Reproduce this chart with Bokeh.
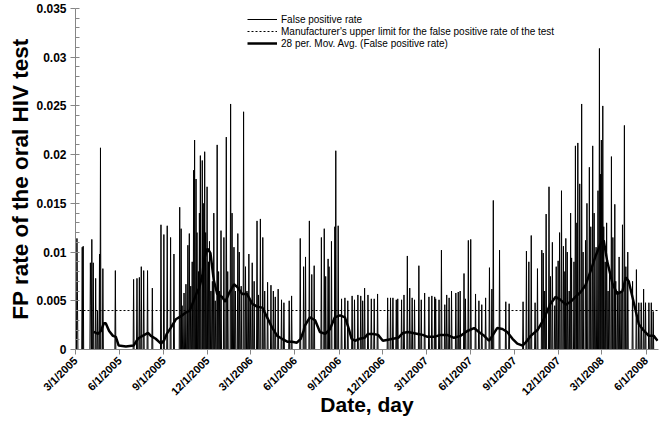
import math
import pandas as pd
from bokeh.plotting import figure
from bokeh.models import Range1d, FixedTicker, NumeralTickFormatter, Legend, LegendItem
from bokeh.embed import file_html
from bokeh.resources import INLINE

# ---------------- data ----------------
start_date = "2005-03-01"
last_date = "2008-06-25"
axis_end = "2008-06-27"

spike_dates = [
    "2005-03-04", "2005-03-05", "2005-03-15", "2005-03-17", "2005-04-01", "2005-04-02", "2005-04-04",
    "2005-04-07", "2005-04-12", "2005-04-16", "2005-04-20", "2005-04-22", "2005-04-27", "2005-05-23",
    "2005-06-30", "2005-07-07", "2005-07-12", "2005-07-16", "2005-07-21", "2005-07-29", "2005-08-08",
    "2005-08-26", "2005-09-01", "2005-09-08", "2005-09-15", "2005-09-22", "2005-10-04", "2005-10-07",
    "2005-10-09", "2005-10-13", "2005-10-17", "2005-10-21", "2005-10-24", "2005-10-27", "2005-10-30",
    "2005-11-02", "2005-11-04", "2005-11-07", "2005-11-09", "2005-11-12", "2005-11-14", "2005-11-16",
    "2005-11-20", "2005-11-22", "2005-11-25", "2005-11-27", "2005-11-30", "2005-12-03", "2005-12-05",
    "2005-12-08", "2005-12-11", "2005-12-14", "2005-12-17", "2005-12-21", "2005-12-24", "2005-12-26",
    "2005-12-29", "2006-01-04", "2006-01-09", "2006-01-12", "2006-01-18", "2006-01-21", "2006-01-25",
    "2006-01-28", "2006-02-02", "2006-02-05", "2006-02-09", "2006-02-14", "2006-02-18", "2006-02-21",
    "2006-02-25", "2006-02-28", "2006-03-04", "2006-03-08", "2006-03-14", "2006-03-17", "2006-03-21",
    "2006-03-26", "2006-03-30", "2006-04-05", "2006-04-12", "2006-04-17", "2006-04-21", "2006-04-27",
    "2006-05-04", "2006-05-09", "2006-05-20", "2006-05-25", "2006-06-12", "2006-06-19", "2006-06-23",
    "2006-07-01", "2006-07-06", "2006-07-11", "2006-07-26", "2006-08-01", "2006-08-04", "2006-08-09",
    "2006-08-11", "2006-08-16", "2006-08-23", "2006-08-25", "2006-08-30", "2006-09-06", "2006-09-13",
    "2006-09-19", "2006-09-28", "2006-10-03", "2006-10-10", "2006-10-16", "2006-10-20", "2006-10-24",
    "2006-10-31", "2006-11-07", "2006-11-13", "2006-11-20", "2006-12-11", "2006-12-17", "2006-12-22",
    "2006-12-29", "2007-01-01", "2007-01-09", "2007-01-14", "2007-01-21", "2007-01-26", "2007-01-31",
    "2007-02-05", "2007-02-14", "2007-02-19", "2007-02-26", "2007-03-07", "2007-03-13", "2007-03-19",
    "2007-03-21", "2007-03-28", "2007-04-02", "2007-04-09", "2007-04-13", "2007-04-18", "2007-04-23",
    "2007-05-02", "2007-05-07", "2007-05-11", "2007-05-19", "2007-05-22", "2007-05-28", "2007-06-02",
    "2007-06-12", "2007-06-19", "2007-06-25", "2007-07-03", "2007-07-11", "2007-07-16", "2007-07-19",
    "2007-08-01", "2007-08-14", "2007-08-21", "2007-09-19", "2007-09-26", "2007-10-01", "2007-10-06",
    "2007-10-14", "2007-10-19", "2007-10-28", "2007-10-31", "2007-11-03", "2007-11-06", "2007-11-12",
    "2007-11-15", "2007-11-19", "2007-11-24", "2007-11-27", "2007-12-01", "2007-12-04", "2007-12-08",
    "2007-12-12", "2007-12-15", "2007-12-17", "2007-12-20", "2007-12-24", "2007-12-27", "2007-12-29",
    "2008-01-03", "2008-01-06", "2008-01-09", "2008-01-11", "2008-01-15", "2008-01-19", "2008-01-22",
    "2008-01-27", "2008-01-30", "2008-02-04", "2008-02-07", "2008-02-11", "2008-02-14", "2008-02-18",
    "2008-02-22", "2008-02-25", "2008-02-27", "2008-02-29", "2008-03-03", "2008-03-05", "2008-03-08",
    "2008-03-11", "2008-03-14", "2008-03-17", "2008-03-21", "2008-03-24", "2008-03-28", "2008-03-30",
    "2008-04-03", "2008-04-06", "2008-04-10", "2008-04-13", "2008-04-17", "2008-04-20", "2008-04-24",
    "2008-05-04", "2008-05-12", "2008-05-17", "2008-05-22", "2008-05-27", "2008-05-31", "2008-06-07",
    "2008-06-12", "2008-06-16",
]
spike_values = [
    0.0114, 0.0057, 0.0105, 0.0106, 0.0089, 0.0045, 0.0113,
    0.0089, 0.0073, 0.0040, 0.0098, 0.0207, 0.0083, 0.0081,
    0.0072, 0.0073, 0.0074, 0.0085, 0.0081, 0.0081, 0.0063,
    0.0128, 0.0118, 0.0127, 0.0115, 0.0098, 0.0146, 0.0124,
    0.0045, 0.0058, 0.0067, 0.0107, 0.0119, 0.0065, 0.0090,
    0.0184, 0.0215, 0.0175, 0.0120, 0.0080, 0.0140, 0.0199,
    0.0194, 0.0150, 0.0203, 0.0120, 0.0167, 0.0090, 0.0111,
    0.0060, 0.0070, 0.0140, 0.0050, 0.0210, 0.0080, 0.0060,
    0.0122, 0.0115, 0.0218, 0.0080, 0.0252, 0.0140, 0.0105,
    0.0060, 0.0119, 0.0100, 0.0065, 0.0244, 0.0085, 0.0060,
    0.0098, 0.0050, 0.0089, 0.0070, 0.0132, 0.0056, 0.0134,
    0.0115, 0.0060, 0.0069, 0.0066, 0.0060, 0.0054, 0.0062,
    0.0051, 0.0048, 0.0050, 0.0055, 0.0114, 0.0085, 0.0095,
    0.0132, 0.0077, 0.0086, 0.0115, 0.0124, 0.0075, 0.0093,
    0.0085, 0.0111, 0.0126, 0.0204, 0.0127, 0.0052, 0.0053,
    0.0050, 0.0055, 0.0051, 0.0056, 0.0055, 0.0050, 0.0063,
    0.0056, 0.0052, 0.0052, 0.0057, 0.0053, 0.0053, 0.0053,
    0.0051, 0.0052, 0.0051, 0.0056, 0.0096, 0.0063, 0.0053,
    0.0051, 0.0086, 0.0051, 0.0058, 0.0054, 0.0055, 0.0054,
    0.0052, 0.0051, 0.0102, 0.0046, 0.0056, 0.0053, 0.0060,
    0.0058, 0.0059, 0.0060, 0.0078, 0.0052, 0.0112, 0.0113,
    0.0057, 0.0050, 0.0046, 0.0053, 0.0084, 0.0062, 0.0153,
    0.0102, 0.0049, 0.0047, 0.0049, 0.0101, 0.0090, 0.0117,
    0.0048, 0.0083, 0.0102, 0.0099, 0.0060, 0.0139, 0.0167,
    0.0075, 0.0110, 0.0045, 0.0085, 0.0091, 0.0120, 0.0163,
    0.0106, 0.0080, 0.0114, 0.0100, 0.0060, 0.0140, 0.0094,
    0.0090, 0.0209, 0.0130, 0.0212, 0.0170, 0.0252, 0.0100,
    0.0112, 0.0150, 0.0187, 0.0126, 0.0209, 0.0140, 0.0105,
    0.0163, 0.0309, 0.0180, 0.0215, 0.0250, 0.0126, 0.0090,
    0.0130, 0.0060, 0.0080, 0.0198, 0.0115, 0.0149, 0.0070,
    0.0060, 0.0095, 0.0060, 0.0128, 0.0230, 0.0085, 0.0100,
    0.0070, 0.0082, 0.0048, 0.0048, 0.0062, 0.0048, 0.0048,
    0.0048, 0.0039,
]

ma_dates = [
    "2005-04-08", "2005-04-17", "2005-04-23", "2005-04-29", "2005-05-03", "2005-05-10", "2005-05-18",
    "2005-05-24", "2005-05-30", "2005-06-14", "2005-06-30", "2005-07-09", "2005-07-15", "2005-07-30",
    "2005-08-05", "2005-08-15", "2005-08-26", "2005-09-01", "2005-09-07", "2005-09-15", "2005-09-26",
    "2005-10-06", "2005-10-17", "2005-10-25", "2005-11-02", "2005-11-10", "2005-11-13", "2005-11-21",
    "2005-11-23", "2005-11-30", "2005-12-02", "2005-12-07", "2005-12-14", "2005-12-21", "2005-12-31",
    "2006-01-07", "2006-01-14", "2006-01-25", "2006-02-01", "2006-02-11", "2006-02-21", "2006-03-04",
    "2006-03-14", "2006-03-25", "2006-04-04", "2006-04-14", "2006-04-25", "2006-05-05", "2006-05-16",
    "2006-05-26", "2006-06-05", "2006-06-13", "2006-06-19", "2006-06-21", "2006-07-02", "2006-07-13",
    "2006-07-23", "2006-08-03", "2006-08-13", "2006-08-23", "2006-09-03", "2006-09-13", "2006-09-20",
    "2006-09-27", "2006-10-04", "2006-10-14", "2006-10-24", "2006-10-31", "2006-11-11", "2006-11-21",
    "2006-12-01", "2006-12-12", "2006-12-22", "2007-01-02", "2007-01-12", "2007-01-22", "2007-02-02",
    "2007-02-12", "2007-02-22", "2007-03-04", "2007-03-18", "2007-03-31", "2007-04-14", "2007-04-28",
    "2007-05-12", "2007-05-26", "2007-06-09", "2007-06-19", "2007-06-30", "2007-07-10", "2007-07-17",
    "2007-07-27", "2007-08-07", "2007-08-17", "2007-08-28", "2007-09-07", "2007-09-18", "2007-09-24",
    "2007-10-05", "2007-10-19", "2007-11-01", "2007-11-15", "2007-11-26", "2007-12-06", "2007-12-17",
    "2007-12-27", "2008-01-06", "2008-01-17", "2008-01-27", "2008-02-07", "2008-02-17", "2008-02-27",
    "2008-03-05", "2008-03-12", "2008-03-23", "2008-04-02", "2008-04-13", "2008-04-20", "2008-04-26",
    "2008-05-07", "2008-05-17", "2008-05-28", "2008-06-07", "2008-06-17", "2008-06-25",
]
ma_values = [
    0.0018, 0.0016, 0.0019, 0.0027, 0.0027, 0.0019, 0.0014,
    0.0013, 0.0004, 0.0003, 0.0004, 0.0011, 0.0013, 0.0017,
    0.0014, 0.0011, 0.0006, 0.0009, 0.0016, 0.0022, 0.0031,
    0.0034, 0.0038, 0.0040, 0.0050, 0.0060, 0.0062, 0.0078,
    0.0091, 0.0103, 0.0103, 0.0099, 0.0071, 0.0057, 0.0054,
    0.0049, 0.0057, 0.0067, 0.0064, 0.0057, 0.0057, 0.0047,
    0.0044, 0.0043, 0.0033, 0.0023, 0.0014, 0.0011, 0.0008,
    0.0008, 0.0007, 0.0011, 0.0019, 0.0024, 0.0033, 0.0030,
    0.0018, 0.0016, 0.0021, 0.0033, 0.0035, 0.0033, 0.0023,
    0.0011, 0.0009, 0.0011, 0.0012, 0.0016, 0.0016, 0.0015,
    0.0009, 0.0010, 0.0011, 0.0012, 0.0017, 0.0018, 0.0017,
    0.0016, 0.0015, 0.0013, 0.0013, 0.0015, 0.0015, 0.0012,
    0.0014, 0.0019, 0.0022, 0.0018, 0.0014, 0.0009, 0.0014,
    0.0022, 0.0021, 0.0018, 0.0011, 0.0006, 0.0004, 0.0007,
    0.0014, 0.0020, 0.0031, 0.0047, 0.0054, 0.0051, 0.0046,
    0.0049, 0.0054, 0.0059, 0.0066, 0.0081, 0.0096, 0.0108,
    0.0112, 0.0091, 0.0068, 0.0057, 0.0060, 0.0074, 0.0070,
    0.0047, 0.0026, 0.0019, 0.0014, 0.0014, 0.0009,
]

upper_limit = 0.004

xtick_dates = [
    "2005-03-01", "2005-06-01", "2005-09-01", "2005-12-01", "2006-03-01", "2006-06-01", "2006-09-01",
    "2006-12-01", "2007-03-01", "2007-06-01", "2007-09-01", "2007-12-01", "2008-03-01", "2008-06-01",
]
xtick_labels = [
    "3/1/2005", "6/1/2005", "9/1/2005", "12/1/2005", "3/1/2006", "6/1/2006", "9/1/2006",
    "12/1/2006", "3/1/2007", "6/1/2007", "9/1/2007", "12/1/2007", "3/1/2008", "6/1/2008",
]
ytick_values = [0, 0.005, 0.01, 0.015, 0.02, 0.025, 0.03, 0.035]
yminor_values = [i / 1000 for i in range(0, 36)]

legend_labels = [
    "False positive rate",
    "Manufacturer's upper limit for the false positive rate of the test",
    "28 per. Mov. Avg. (False positive rate)",
]

# ---------------- build series ----------------
days = pd.date_range(start_date, last_date, freq="D")
fp = pd.Series(0.0, index=days)
fp.loc[pd.to_datetime(spike_dates)] = spike_values

ma_x = pd.to_datetime(ma_dates)
limit_x = pd.to_datetime([start_date, axis_end])

FONT = "Liberation Sans"
AXIS_GREY = "#868686"

p = figure(
    width=661, height=438,
    x_axis_type="datetime",
    x_range=Range1d(pd.Timestamp(start_date), pd.Timestamp(axis_end)),
    y_range=Range1d(0, 0.035),
    output_backend="svg", toolbar_location=None,
    min_border_left=75, min_border_right=3, min_border_top=8, min_border_bottom=89,
)
p.outline_line_color = None
p.xgrid.grid_line_color = None
p.ygrid.grid_line_color = None
p.background_fill_color = "white"
p.border_fill_color = "white"

r_fp = p.line(fp.index, fp.values, line_color="black", line_width=1)
r_lim = p.line(limit_x, [upper_limit, upper_limit], line_color="black", line_width=1, line_dash="2 2")
r_ma = p.line(ma_x, ma_values, line_color="black", line_width=2.5)

# axes
xt = [int(pd.Timestamp(d).value // 10**6) for d in xtick_dates]
p.xaxis.ticker = FixedTicker(ticks=xt)
p.xaxis.major_label_overrides = dict(zip(xt, xtick_labels))
p.xaxis.major_label_orientation = math.pi / 4
p.xaxis.major_label_text_font = FONT
p.xaxis.major_label_text_font_style = "bold"
p.xaxis.major_label_text_font_size = "11px"
p.xaxis.major_label_text_color = "black"
p.xaxis.major_label_standoff = 4
p.xaxis.axis_label = "Date, day"
p.xaxis.axis_label_text_font = FONT
p.xaxis.axis_label_text_font_style = "bold"
p.xaxis.axis_label_text_font_size = "21px"
p.xaxis.axis_label_text_color = "black"
p.xaxis.axis_label_standoff = -12
p.xaxis.axis_line_color = AXIS_GREY
p.xaxis.major_tick_line_color = AXIS_GREY
p.xaxis.major_tick_out = 5
p.xaxis.major_tick_in = 0
p.xaxis.minor_tick_line_color = None

p.yaxis.ticker = FixedTicker(ticks=ytick_values, minor_ticks=yminor_values)
p.yaxis.formatter = NumeralTickFormatter(format="0.[000]")
p.yaxis.major_label_text_font = FONT
p.yaxis.major_label_text_font_style = "bold"
p.yaxis.major_label_text_font_size = "12px"
p.yaxis.major_label_text_color = "black"
p.yaxis.axis_label = "FP rate of the oral HIV test"
p.yaxis.axis_label_text_font = FONT
p.yaxis.axis_label_text_font_style = "bold"
p.yaxis.axis_label_text_font_size = "22.5px"
p.yaxis.axis_label_text_color = "black"
p.yaxis.axis_label_standoff = 0
p.yaxis.axis_line_color = AXIS_GREY
p.yaxis.major_tick_line_color = AXIS_GREY
p.yaxis.major_tick_out = 5
p.yaxis.major_tick_in = 0
p.yaxis.minor_tick_line_color = AXIS_GREY
p.yaxis.minor_tick_in = 4
p.yaxis.minor_tick_out = 0
p.yaxis.major_label_standoff = 4

legend = Legend(
    items=[
        LegendItem(label=legend_labels[0], renderers=[r_fp]),
        LegendItem(label=legend_labels[1], renderers=[r_lim]),
        LegendItem(label=legend_labels[2], renderers=[r_ma]),
    ],
    location=(172, 300),
    orientation="vertical",
    label_text_font=FONT,
    label_text_font_size="10px",
    label_text_color="black",
    label_height=12, glyph_height=12, glyph_width=30,
    label_standoff=4, spacing=0, padding=0, margin=0,
    border_line_alpha=0, background_fill_alpha=0,
)
p.add_layout(legend)

open("out.html", "w").write(file_html(p, INLINE))
